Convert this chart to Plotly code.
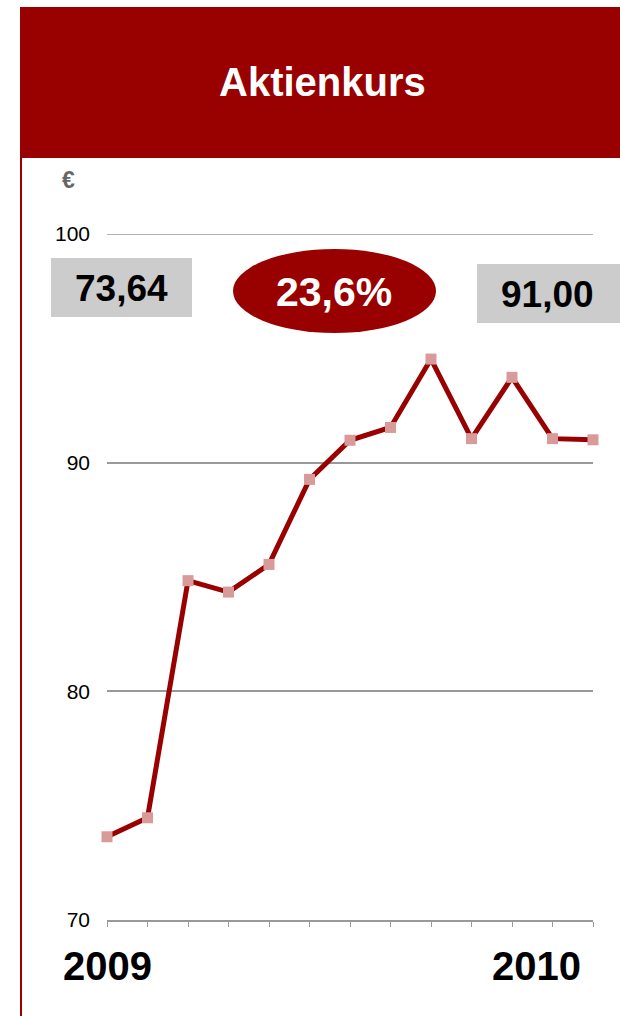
import plotly.graph_objects as go

# ---- data ----
months = list(range(13))
prices = [73.64, 74.47, 84.84, 84.34, 85.55, 89.27, 90.98, 91.54, 94.53, 91.05, 93.73, 91.05, 91.00]
year_labels = ["2009", "2010"]
y_ticks = [70, 80, 90, 100]
title_text = "Aktienkurs"
start_label = "73,64"
end_label = "91,00"
change_label = "23,6%"

RED = "#990000"
PINK = "#d99a9a"
GRID = "#999999"
FONT = "Liberation Sans, Arial, Helvetica, sans-serif"

W, H = 620, 1016
L, R, T, B = 107, 27, 234, 96
PW, PH = W - L - R, H - T - B


def px(x):
    return (x - L) / PW


def py(y):
    return (H - B - y) / PH


fig = go.Figure()
fig.add_trace(go.Scatter(
    x=months, y=prices, mode="lines+markers",
    line=dict(color=RED, width=5),
    marker=dict(symbol="square", size=11, color=PINK),
    cliponaxis=False, hoverinfo="skip", showlegend=False,
))

shapes = [
    # header band
    dict(type="rect", xref="paper", yref="paper", x0=px(20), x1=px(622), y0=py(158), y1=py(7),
         fillcolor=RED, line=dict(width=0), layer="below"),
    # left vertical rule
    dict(type="line", xref="paper", yref="paper", x0=px(21), x1=px(21), y0=py(158), y1=py(1018),
         line=dict(color=RED, width=2)),
    # top gridline (at range edge, plotly omits it)
    dict(type="line", xref="paper", yref="y", x0=0, x1=1, y0=y_ticks[-1], y1=y_ticks[-1],
         line=dict(color=GRID, width=1.5), layer="below"),
    # start value box
    dict(type="rect", xref="paper", yref="paper", x0=px(51), x1=px(192), y0=py(317), y1=py(258),
         fillcolor="#cccccc", line=dict(width=0)),
    # end value box
    dict(type="rect", xref="paper", yref="paper", x0=px(477), x1=px(622), y0=py(323), y1=py(264),
         fillcolor="#cccccc", line=dict(width=0)),
    # change ellipse
    dict(type="circle", xref="paper", yref="paper", x0=px(233), x1=px(436), y0=py(333), y1=py(249),
         fillcolor=RED, line=dict(width=0)),
]

annotations = [
    dict(text=f"<b>{title_text}</b>", xref="paper", yref="paper", x=px(322), y=py(82),
         showarrow=False, font=dict(family=FONT, size=40, color="white"), xanchor="center", yanchor="middle"),
    dict(text="<b>€</b>", xref="paper", yref="paper", x=px(68), y=py(180),
         showarrow=False, font=dict(family=FONT, size=23, color="#666666"), xanchor="center", yanchor="middle"),
    dict(text=f"<b>{start_label}</b>", xref="paper", yref="paper", x=px(121), y=py(288),
         showarrow=False, font=dict(family=FONT, size=37, color="black"), xanchor="center", yanchor="middle"),
    dict(text=f"<b>{end_label}</b>", xref="paper", yref="paper", x=px(547), y=py(294),
         showarrow=False, font=dict(family=FONT, size=37, color="black"), xanchor="center", yanchor="middle"),
    dict(text=f"<b>{change_label}</b>", xref="paper", yref="paper", x=px(334), y=py(292),
         showarrow=False, font=dict(family=FONT, size=41, color="white"), xanchor="center", yanchor="middle"),
    dict(text=f"<b>{year_labels[0]}</b>", xref="x", yref="paper", x=months[0], y=py(966),
         showarrow=False, font=dict(family=FONT, size=40, color="black"), xanchor="center", yanchor="middle"),
    dict(text=f"<b>{year_labels[1]}</b>", xref="x", yref="paper", x=months[-1], xshift=-10, y=py(966),
         showarrow=False, font=dict(family=FONT, size=40, color="black"), xanchor="right", yanchor="middle"),
]

fig.update_layout(
    width=W, height=H,
    margin=dict(l=L, r=R, t=T, b=B, pad=0),
    paper_bgcolor="white", plot_bgcolor="white",
    shapes=shapes, annotations=annotations,
    xaxis=dict(range=[months[0], months[-1]], tickvals=months, showticklabels=False,
               showgrid=False, zeroline=False, showline=True, linecolor=GRID, linewidth=1.5,
               ticks="outside", ticklen=5, tickcolor=GRID, tickwidth=1),
    yaxis=dict(range=[70, 100], tickvals=y_ticks, showgrid=True, gridcolor=GRID, gridwidth=1.5,
               zeroline=False, showline=False, ticks="", ticklabelstandoff=16,
               tickfont=dict(family=FONT, size=21, color="black")),
    font=dict(family=FONT),
)

fig.write_html("out.html", config={"displayModeBar": False},
               post_script="document.body.style.margin='0';document.body.style.overflow='hidden';")
